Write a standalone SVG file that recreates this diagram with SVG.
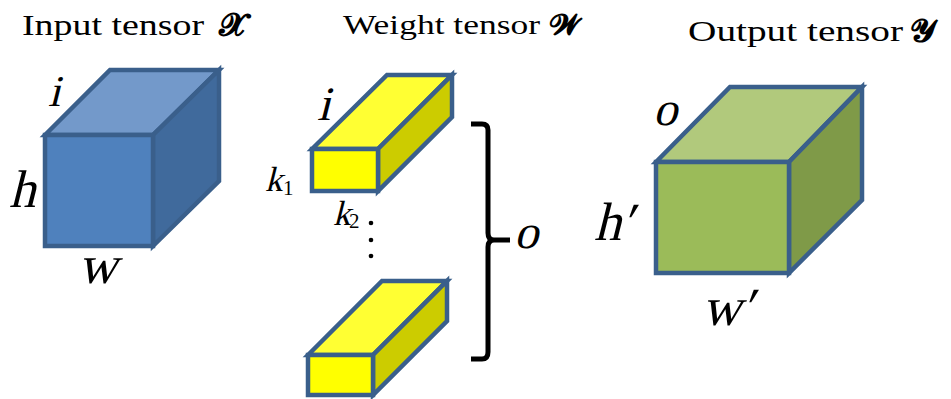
<svg xmlns="http://www.w3.org/2000/svg" width="951" height="399" viewBox="0 0 951 399">
<style>
.edge{stroke:#3A5F8B;stroke-width:4.5;stroke-linejoin:miter}
.title{font-family:"Liberation Serif","DejaVu Serif",serif;fill:#000}
.math{font-family:"Liberation Serif","DejaVu Serif",serif;fill:#000}
.bold{font-family:"DejaVu Serif","DejaVu Sans",serif;font-weight:bold;fill:#000}
</style>
<rect width="951" height="399" fill="#fff"/>
<g id="input">
<text class="title" x="22" y="35" font-size="30" textLength="182" lengthAdjust="spacingAndGlyphs">Input tensor</text>
<text class="bold" x="219" y="35" font-size="32">𝓧</text>
<polygon class="edge" fill="#7399CA" points="45,135 110,70 219,70 153,135"/>
<polygon class="edge" fill="#406A9C" points="153,135 219,70 219,181 153,246"/>
<rect class="edge" fill="#4F81BD" x="45" y="135" width="108" height="111"/>
<text class="math" transform="translate(48,106) skewX(-14)" font-size="44">i</text>
<text class="math" transform="translate(9,207) skewX(-14)" font-size="53">h</text>
<text class="math" transform="translate(78,283) skewX(-14)" font-size="54">w</text>
</g>
<g id="weight">
<text class="title" x="343" y="34" font-size="27" textLength="197" lengthAdjust="spacingAndGlyphs">Weight tensor</text>
<text class="bold" x="550" y="34" font-size="29">𝓦</text>
<polygon class="edge" fill="#FFFF33" points="312,149 387,75 452,75 378,149"/>
<polygon class="edge" fill="#CCCC00" points="378,149 452,75 452,117 378,191"/>
<rect class="edge" fill="#FFFF00" x="312" y="149" width="66" height="42"/>
<polygon class="edge" fill="#FFFF33" points="308,355 382,281 447,281 373,355"/>
<polygon class="edge" fill="#CCCC00" points="373,355 447,281 447,321 373,395"/>
<rect class="edge" fill="#FFFF00" x="308" y="355" width="65" height="40"/>
<text class="math" transform="translate(317,120) skewX(-14)" font-size="48">i</text>
<text class="math" transform="translate(265,191) skewX(-14)" font-size="35">k</text>
<text class="math" x="283" y="195" font-size="21">1</text>
<text class="math" transform="translate(333,225) skewX(-14)" font-size="35">k</text>
<text class="math" x="349" y="228" font-size="21">2</text>
<circle cx="371" cy="223" r="2.3" fill="#000"/>
<circle cx="371" cy="240" r="2.3" fill="#000"/>
<circle cx="371" cy="256" r="2.3" fill="#000"/>
<path d="M471,124 H482 Q488,124 488,130 V233 Q488,240 494,240 H510 M494,240 Q488,240 488,247 V352 Q488,359 482,359 H471" fill="none" stroke="#000" stroke-width="5"/>
<text class="math" transform="translate(514,248) skewX(-14)" font-size="48">o</text>
</g>
<g id="output">
<text class="title" x="688" y="41" font-size="30" textLength="215" lengthAdjust="spacingAndGlyphs">Output tensor</text>
<text class="bold" x="910" y="41" font-size="32">𝓨</text>
<polygon class="edge" fill="#B1C97C" points="656,162 730,87 862,87 789,162"/>
<polygon class="edge" fill="#7F9A48" points="789,162 862,87 862,200 789,273"/>
<rect class="edge" fill="#9BBB59" x="656" y="162" width="133" height="111"/>
<text class="math" transform="translate(653,125) skewX(-14)" font-size="48">o</text>
<text class="math" transform="translate(594,240) skewX(-14)" font-size="54">h′</text>
<text class="math" transform="translate(702,325) skewX(-14)" font-size="54">w′</text>
</g>
</svg>
